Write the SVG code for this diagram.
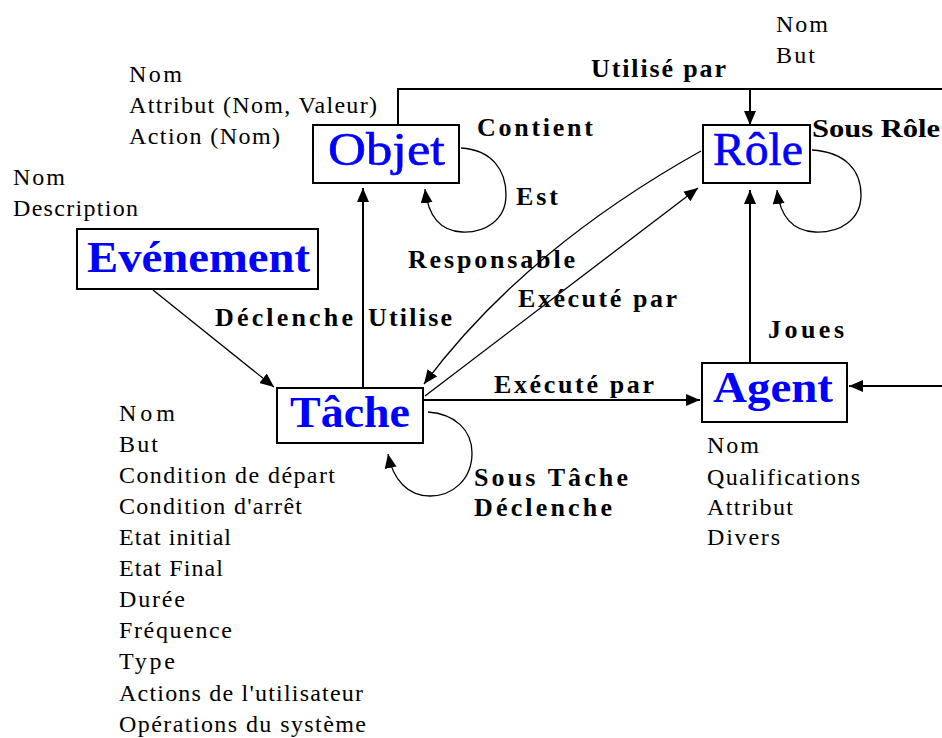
<svg xmlns="http://www.w3.org/2000/svg" width="942" height="738" viewBox="0 0 942 738">
  <style>
    .box { fill: #ffffff; stroke: #000000; stroke-width: 2; }
    .title { font-family: "Liberation Serif", "Times New Roman", serif; font-size: 46px; fill: #0000ff; stroke: #0000ff; stroke-width: 0.6; }
    .title.b { font-weight: bold; font-size: 45px; stroke: none; }
    .attr { font-family: "Liberation Serif", "Times New Roman", serif; font-size: 24px; fill: #000000; }
    .lbl { font-family: "Liberation Serif", "Times New Roman", serif; font-size: 26px; font-weight: bold; fill: #000000; }
    .solid { fill: none; stroke: #000000; stroke-width: 2; }
    .thin { fill: none; stroke: #000000; stroke-width: 1.3; }
    .arr { marker-end: url(#head); }
  </style>
  <defs>
    <marker id="head" markerUnits="userSpaceOnUse" markerWidth="15" markerHeight="13" refX="14" refY="6" orient="auto">
      <path d="M0,0 L14,6 L0,12 Z" fill="#000000"/>
    </marker>
  </defs>

  <rect width="942" height="738" fill="#ffffff"/>

  <!-- connectors and their labels -->
  <g id="connectors">
    <!-- Objet utilisé par Rôle -->
    <g id="c-utilise-par">
      <path class="solid" d="M398 125 V89 H945"/>
      <path class="solid arr" d="M750 89 V125"/>
      <text class="lbl" x="591" y="77" textLength="135" lengthAdjust="spacing">Utilisé par</text>
    </g>
    <!-- Objet contient / est Objet -->
    <g id="c-objet-loop">
      <path class="thin arr" d="M461 148 C492 150 506 170 506 195 C506 220 485 233 462 232 C440 231 428 215 425 189"/>
      <text class="lbl" x="477" y="136" textLength="116" lengthAdjust="spacing">Contient</text>
      <text class="lbl" x="516" y="205" textLength="42" lengthAdjust="spacing">Est</text>
    </g>
    <!-- Rôle sous-rôle -->
    <g id="c-role-loop">
      <path class="thin arr" d="M812 150 C845 152 861 170 861 195 C861 220 840 233 815 232 C792 231 780 215 777 190"/>
      <text class="lbl" x="812" y="137" textLength="128" lengthAdjust="spacingAndGlyphs">Sous Rôle</text>
    </g>
    <!-- Tâche utilise Objet -->
    <g id="c-utilise">
      <path class="solid arr" d="M363 388 V188"/>
      <text class="lbl" x="368" y="326" textLength="84" lengthAdjust="spacing">Utilise</text>
    </g>
    <!-- Evénement déclenche Tâche -->
    <g id="c-declenche">
      <path class="thin arr" d="M153 290 L274 387"/>
      <text class="lbl" x="215" y="326" textLength="138" lengthAdjust="spacing">Déclenche</text>
    </g>
    <!-- Rôle responsable de Tâche -->
    <g id="c-responsable">
      <path class="thin arr" d="M701 151 Q524 250 424 384"/>
      <text class="lbl" x="408" y="268" textLength="167" lengthAdjust="spacing">Responsable</text>
    </g>
    <!-- Tâche exécutée par Rôle -->
    <g id="c-execute-role">
      <path class="thin arr" d="M425 396 L698 188"/>
      <text class="lbl" x="518" y="307" textLength="159" lengthAdjust="spacing">Exécuté par</text>
    </g>
    <!-- Tâche exécutée par Agent -->
    <g id="c-execute-agent">
      <path class="solid arr" d="M423 400 H700"/>
      <text class="lbl" x="494" y="393" textLength="160" lengthAdjust="spacing">Exécuté par</text>
    </g>
    <!-- Agent joue Rôle -->
    <g id="c-joues">
      <path class="solid arr" d="M750 363 V190"/>
      <text class="lbl" x="768" y="338" textLength="76" lengthAdjust="spacing">Joues</text>
    </g>
    <!-- incoming link on Agent -->
    <g id="c-agent-in">
      <path class="solid arr" d="M945 386 H849"/>
    </g>
    <!-- Tâche sous-tâche / déclenche -->
    <g id="c-tache-loop">
      <path class="thin arr" d="M428 412 C455 414 472 430 472 453 C472 480 452 496 430 496 C408 496 393 480 388 454"/>
      <text class="lbl" x="474" y="486" textLength="154" lengthAdjust="spacing">Sous Tâche</text>
      <text class="lbl" x="474" y="516" textLength="138" lengthAdjust="spacing">Déclenche</text>
    </g>
  </g>

  <!-- Objet -->
  <g id="node-objet">
    <rect class="box" x="313" y="125" width="146" height="58"/>
    <text class="title" x="328" y="165" textLength="117" lengthAdjust="spacingAndGlyphs">Objet</text>
    <text class="attr" x="129" y="82" textLength="53" lengthAdjust="spacing">Nom</text>
    <text class="attr" x="129" y="113" textLength="248" lengthAdjust="spacing">Attribut (Nom, Valeur)</text>
    <text class="attr" x="129" y="144" textLength="151" lengthAdjust="spacing">Action (Nom)</text>
  </g>

  <!-- Rôle -->
  <g id="node-role">
    <rect class="box" x="703" y="125" width="107" height="58"/>
    <text class="title" x="713" y="165" textLength="90" lengthAdjust="spacingAndGlyphs">Rôle</text>
    <text class="attr" x="776" y="32" textLength="52" lengthAdjust="spacing">Nom</text>
    <text class="attr" x="776" y="63" textLength="39" lengthAdjust="spacing">But</text>
  </g>

  <!-- Evénement -->
  <g id="node-evenement">
    <rect class="box" x="77" y="229" width="241" height="60"/>
    <text class="title b" x="87" y="272" textLength="223" lengthAdjust="spacingAndGlyphs">Evénement</text>
    <text class="attr" x="13" y="185" textLength="52" lengthAdjust="spacing">Nom</text>
    <text class="attr" x="13" y="216" textLength="125" lengthAdjust="spacing">Description</text>
  </g>

  <!-- Tâche -->
  <g id="node-tache">
    <rect class="box" x="277" y="388" width="146" height="55"/>
    <text class="title b" x="290" y="427" textLength="120" lengthAdjust="spacingAndGlyphs">Tâche</text>
    <text class="attr" x="119" y="421" textLength="56" lengthAdjust="spacing">Nom</text>
    <text class="attr" x="119" y="452" textLength="39" lengthAdjust="spacing">But</text>
    <text class="attr" x="119" y="483" textLength="216" lengthAdjust="spacing">Condition de départ</text>
    <text class="attr" x="119" y="514" textLength="183" lengthAdjust="spacing">Condition d'arrêt</text>
    <text class="attr" x="119" y="545" textLength="112" lengthAdjust="spacing">Etat initial</text>
    <text class="attr" x="119" y="576" textLength="104" lengthAdjust="spacing">Etat Final</text>
    <text class="attr" x="119" y="607" textLength="66" lengthAdjust="spacing">Durée</text>
    <text class="attr" x="119" y="638" textLength="113" lengthAdjust="spacing">Fréquence</text>
    <text class="attr" x="119" y="669" textLength="56" lengthAdjust="spacing">Type</text>
    <text class="attr" x="119" y="701" textLength="244" lengthAdjust="spacing">Actions de l'utilisateur</text>
    <text class="attr" x="119" y="732" textLength="247" lengthAdjust="spacing">Opérations du système</text>
  </g>

  <!-- Agent -->
  <g id="node-agent">
    <rect class="box" x="702" y="363" width="145" height="59"/>
    <text class="title b" x="713" y="402" textLength="120" lengthAdjust="spacingAndGlyphs">Agent</text>
    <text class="attr" x="707" y="453" textLength="52" lengthAdjust="spacing">Nom</text>
    <text class="attr" x="707" y="485" textLength="153" lengthAdjust="spacing">Qualifications</text>
    <text class="attr" x="707" y="515" textLength="86" lengthAdjust="spacing">Attribut</text>
    <text class="attr" x="707" y="545" textLength="73" lengthAdjust="spacing">Divers</text>
  </g>
</svg>
